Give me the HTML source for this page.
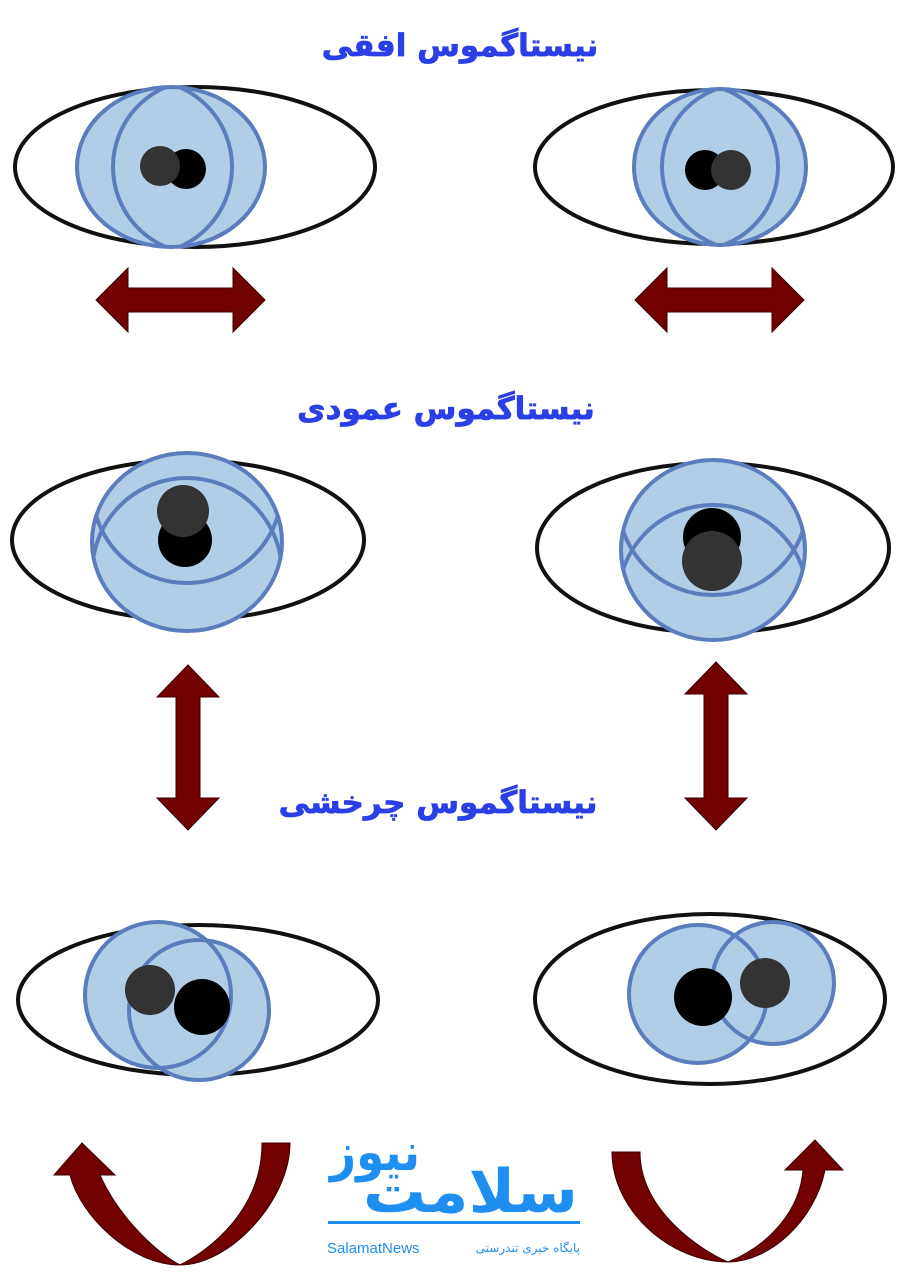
<!DOCTYPE html>
<html><head><meta charset="utf-8"><style>
body{margin:0;background:#fff;width:913px;height:1280px;overflow:hidden}
svg{display:block}
.t{font-family:"DejaVu Sans",sans-serif;font-weight:bold;fill:#2a3fe6;font-size:31px;stroke:#2a3fe6;stroke-width:0.8}
</style></head><body>
<svg width="913" height="1280" viewBox="0 0 913 1280">
<defs>
<clipPath id="c1"><ellipse cx="171" cy="167" rx="94" ry="80"/></clipPath>
<clipPath id="c2"><ellipse cx="720" cy="167" rx="86" ry="78"/></clipPath>
<clipPath id="c3"><ellipse cx="187" cy="542" rx="95" ry="89"/></clipPath>
<clipPath id="c4"><ellipse cx="713" cy="550" rx="92" ry="90"/></clipPath>
</defs>
<text class="t" x="460" y="56" text-anchor="middle" direction="rtl">نیستاگموس افقی</text>
<text class="t" x="446" y="419" text-anchor="middle" direction="rtl">نیستاگموس عمودی</text>
<text class="t" x="438" y="813" text-anchor="middle" direction="rtl">نیستاگموس چرخشی</text>

<g stroke="#111" stroke-width="4" fill="#fff">
<ellipse cx="195" cy="167" rx="180" ry="80"/>
<ellipse cx="714" cy="167" rx="179" ry="77"/>
<ellipse cx="188" cy="540" rx="176" ry="80"/>
<ellipse cx="713" cy="548" rx="176" ry="85"/>
<ellipse cx="198" cy="1000" rx="180" ry="75"/>
<ellipse cx="710" cy="999" rx="175" ry="85"/>
</g>
<g fill="#b2cde6" stroke="#5b7dbe" stroke-width="4">
<ellipse cx="171" cy="167" rx="94" ry="80"/>
<ellipse cx="720" cy="167" rx="86" ry="78"/>
<ellipse cx="187" cy="542" rx="95" ry="89"/>
<ellipse cx="713" cy="550" rx="92" ry="90"/>
</g>
<g fill="none" stroke="#5b7dbe" stroke-width="4">
<g clip-path="url(#c1)"><circle cx="200" cy="167" r="87"/><circle cx="145" cy="167" r="87"/></g>
<g clip-path="url(#c2)"><circle cx="745" cy="167" r="83"/><circle cx="695" cy="167" r="83"/></g>
<g clip-path="url(#c3)"><circle cx="187" cy="573" r="95"/><circle cx="187" cy="488" r="95"/></g>
<g clip-path="url(#c4)"><circle cx="713" cy="600" r="95"/><circle cx="713" cy="500" r="95"/></g>
</g>
<g fill="#b2cde6" stroke="none">
<circle cx="158" cy="995" r="73"/><circle cx="199" cy="1010" r="70"/>
<circle cx="698" cy="994" r="69"/><circle cx="773" cy="983" r="61"/>
</g>
<g fill="none" stroke="#5b7dbe" stroke-width="4">
<circle cx="158" cy="995" r="73"/><circle cx="199" cy="1010" r="70"/>
<circle cx="698" cy="994" r="69"/><circle cx="773" cy="983" r="61"/>
</g>
<circle cx="186" cy="169" r="20" fill="#000"/><circle cx="160" cy="166" r="20" fill="#333"/>
<circle cx="705" cy="170" r="20" fill="#000"/><circle cx="731" cy="170" r="20" fill="#333"/>
<circle cx="185" cy="540" r="27" fill="#000"/><circle cx="183" cy="511" r="26" fill="#333"/>
<circle cx="712" cy="537" r="29" fill="#000"/><circle cx="712" cy="561" r="30" fill="#333"/>
<circle cx="150" cy="990" r="25" fill="#333"/><circle cx="202" cy="1007" r="28" fill="#000"/>
<circle cx="703" cy="997" r="29" fill="#000"/><circle cx="765" cy="983" r="25" fill="#333"/>

<g fill="#720000" stroke="#3a0000" stroke-width="1">
<polygon points="96,300 128,268 128,288 233,288 233,268 265,300 233,332 233,312 128,312 128,332"/>
<polygon points="635,300 667,268 667,288 772,288 772,268 804,300 772,332 772,312 667,312 667,332"/>
<polygon points="188,665 219,697 200,697 200,798 219,798 188,830 157,798 176,798 176,697 157,697"/>
<polygon points="716,662 747,694 728,694 728,798 747,798 716,830 685,798 704,798 704,694 685,694"/>
<path d="M262,1143 L290,1143 C290,1200 230,1265 180,1265 C130,1265 80,1215 70,1175 L54,1175 L82,1143 L115,1175 L100,1175 C120,1220 160,1255 180,1265 C210,1250 262,1210 262,1143 Z"/>
<path d="M612,1152 L640,1152 C640,1210 700,1250 728,1262 C770,1245 800,1210 803,1170 L785,1170 L815,1140 L843,1170 L825,1170 C815,1220 770,1262 728,1262 C670,1262 612,1210 612,1152 Z"/>
</g>

<g fill="#1e8ff0" font-family="'DejaVu Sans',sans-serif">
<text x="578" y="1212" font-weight="bold" font-size="60" direction="rtl" text-anchor="start" textLength="215" lengthAdjust="spacingAndGlyphs">سلامت</text>
<text x="420" y="1170" font-weight="bold" font-size="52" direction="rtl" text-anchor="start" textLength="90" lengthAdjust="spacingAndGlyphs">نیوز</text>
<rect x="328" y="1221" width="252" height="3"/>
<text x="327" y="1253" font-family="'Liberation Sans',sans-serif" font-size="15">SalamatNews</text>
<text x="580" y="1252" font-size="12" direction="rtl" text-anchor="start">پایگاه خبری تندرستی</text>
</g>
</svg>
</body></html>
